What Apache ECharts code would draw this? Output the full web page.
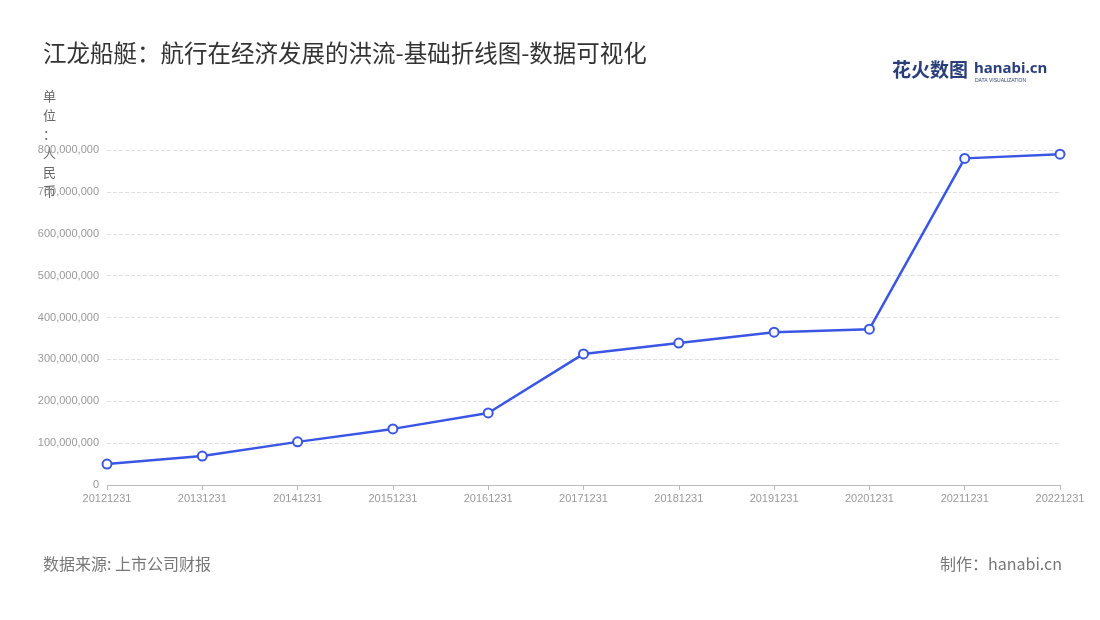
<!DOCTYPE html>
<html><head><meta charset="utf-8">
<script src="https://cdn.jsdelivr.net/npm/echarts@6/dist/echarts.min.js"></script>
<style>html,body{margin:0;padding:0;background:#fff}#c{width:1100px;height:620px}</style>
</head><body><div id="c"></div>
<script>
const categories = ['20121231','20131231','20141231','20151231','20161231','20171231','20181231','20191231','20201231','20211231','20221231'];
const values = [50000000,69000000,103000000,134000000,172000000,313000000,339000000,365000000,372000000,780000000,790000000];
const chart = echarts.init(document.getElementById('c'));
chart.setOption({
  backgroundColor:'#fff',
  title:{text:'江龙船艇：航行在经济发展的洪流-基础折线图-数据可视化',left:38,top:36,textStyle:{fontSize:23.5,fontWeight:'normal',color:'#333',fontFamily:'Noto Sans CJK SC'}},
  graphic:[
    {type:'text',left:892,top:60,style:{text:'花火数图',fontSize:19,fontWeight:'bold',fill:'#2a3f7a',fontFamily:'Noto Sans CJK SC'}},
    {type:'text',left:974,top:61,style:{text:'hanabi.cn',fontSize:15,fontWeight:'bold',fill:'#2a3f7a',fontFamily:'Noto Sans'}},
    {type:'text',left:975,top:78,style:{text:'DATA VISUALIZATION',fontSize:5,fill:'#2a3f7a'}},
    {type:'text',left:43,top:556,style:{text:'数据来源: 上市公司财报',fontSize:16,fill:'#777',fontFamily:'Noto Sans CJK SC'}},
    {type:'text',right:38,top:556,style:{text:'制作：hanabi.cn',fontSize:16,fill:'#777',fontFamily:'Noto Sans CJK SC'}},
    {type:'text',left:43,top:87,style:{text:'单\n位\n：\n人\n民\n币',fontSize:13,lineHeight:19,fill:'#666',fontFamily:'Noto Sans CJK SC'}}
  ],
  grid:{left:107,right:40,top:150,bottom:135},
  xAxis:{type:'category',data:categories,boundaryGap:false,
    axisLine:{lineStyle:{color:'#bbb'}},axisTick:{show:true,lineStyle:{color:'#bbb'}},
    axisLabel:{color:'#999',fontSize:11,margin:8}},
  yAxis:{type:'value',min:0,max:800000000,interval:100000000,
    axisLabel:{color:'#999',fontSize:11,formatter:v=>v.toLocaleString('en-US')},
    splitLine:{lineStyle:{type:'dashed',color:'#e0e0e0'}},axisLine:{show:false},axisTick:{show:false}},
  series:[{type:'line',data:values,symbol:'circle',symbolSize:9,
    lineStyle:{color:'#3a56e4',width:2.5},
    itemStyle:{color:'#fff',borderColor:'#3a56e4',borderWidth:2}}]
});
</script></body></html>
